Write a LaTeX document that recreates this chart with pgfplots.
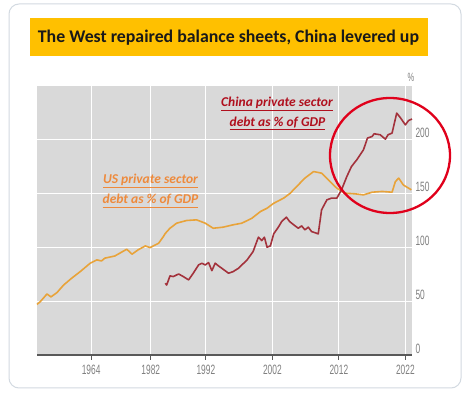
\documentclass[border=0pt]{standalone}
\usepackage{pgfplots}
\pgfplotsset{compat=1.18}
\usepackage{fontspec}
\setmainfont{Carlito}
\newfontfamily\tickfont[FakeStretch=0.62]{Liberation Sans}
\definecolor{bggray}{HTML}{D9D9D9}
\definecolor{usorange}{HTML}{E8A33A}
\definecolor{chinared}{HTML}{A3323C}
\definecolor{usann}{HTML}{EE8A3C}
\definecolor{chinaann}{HTML}{B0101E}
\definecolor{circred}{HTML}{E0001B}
\definecolor{axisgray}{HTML}{595959}
\definecolor{tickgray}{HTML}{808080}
\definecolor{titlebg}{HTML}{FFC000}
\definecolor{framecol}{HTML}{D3DAE1}
\begin{document}
\begin{tikzpicture}[x=1pt,y=1pt]
\useasboundingbox (0,0) rectangle (466,393);
\fill[white] (0,0) rectangle (466,393);
\draw[framecol, line width=1pt, rounded corners=10pt] (9,5) rectangle (461,389);
\fill[titlebg] (30,337) rectangle (427.7,374.7);
\node[anchor=base, inner sep=0pt, text=black!90] at (228.5,350.3) {\fontsize{17.8}{20}\selectfont\bfseries The West repaired balance sheets, China levered up};
\begin{axis}[
  at={(37pt,38pt)}, anchor=south west,
  scale only axis, width=375pt, height=269pt,
  xmin=1966.6, xmax=2023.0, ymin=0, ymax=250,
  axis background/.style={fill=bggray},
  axis x line*=bottom, axis y line*=right,
  y axis line style={draw=none},
  x axis line style={draw=axisgray, line width=1.5pt, -},
  xtick={1974.74,1983.71,1992,2002,2012,2022},
  xticklabels={1964,1982,1992,2002,2012,2022},
  ytick={0,50,100,150,200},
  yticklabels={0,50,100,150,200},
  grid=major,
  major grid style={white, line width=1pt},
  tick align=outside,
  major tick length=5pt,
  xtick style={draw=axisgray, line width=1pt},
  ytick style={draw=none},
  ticklabel style={font=\tickfont\fontsize{13.5}{14}\selectfont, text=tickgray},
  yticklabel style={anchor=west, yshift=6.5pt, xshift=-5pt},
  xticklabel style={yshift=-2pt},
  clip=false,
]
\addplot[usorange, line width=1.6pt, line join=round] table {
1966.6 47
1967.1 49.6
1968.1 56.7
1968.7 54
1969.6 58
1970.6 65
1971.8 71.3
1973.1 77.5
1974.6 85.3
1975.6 88.4
1976.3 87.4
1976.8 90
1978.3 92
1980.1 98.3
1980.9 93.7
1981.8 97.7
1982.9 101.4
1983.6 99.8
1984.9 103.9
1985.6 110
1985.9 113
1986.6 117.8
1987.6 122.5
1989.1 125
1990.6 125.6
1991.9 122.5
1993.1 117.8
1994.6 118.8
1996.1 121
1997.4 122.5
1998.9 127
2000.2 133.3
2001.2 136.4
2002.2 141
2003.7 145.8
2004.7 150.4
2005.4 155
2006.9 164.4
2008.2 170.5
2009.4 169
2010.4 162.8
2011.7 155
2012.9 150.4
2014.4 149.8
2015.7 148.8
2017.0 151.3
2018.5 152
2020.0 151.3
2020.5 161.2
2021.0 164.4
2021.7 158
2022.9 153.5
};
\addplot[chinared, line width=1.6pt, line join=round] table {
1985.9 66.7
1986.1 65
1986.6 73.5
1987.1 72.9
1987.9 75.3
1988.6 72.9
1989.4 69.8
1990.1 76
1990.9 83.7
1991.4 85.3
1991.9 83.7
1992.4 85.9
1992.9 78.4
1993.4 85.3
1993.9 82.8
1994.4 80.6
1995.4 76
1996.1 77.5
1996.9 80.6
1998.2 88.4
1999.1 96.1
1999.9 109.5
2000.4 106.3
2000.8 109.5
2001.2 100.2
2001.7 101.4
2002.2 112.6
2002.9 118.8
2003.4 124
2004.1 128.1
2004.6 124
2005.2 121
2005.9 117.8
2006.4 120
2006.9 116.3
2007.4 118.8
2007.9 114.7
2008.9 112.6
2009.4 134.9
2010.2 144.2
2010.9 145.8
2011.7 145.8
2012.4 153.5
2013.2 165.9
2013.9 175.2
2014.7 181.4
2015.7 190.7
2016.3 201.6
2017.0 203.1
2017.3 205.6
2018.2 204.7
2019.0 200.6
2019.4 204.7
2020.0 206.2
2020.7 224.8
2021.2 221
2022.0 213.9
2022.5 218
2023.0 219.3
};
\end{axis}
\node[anchor=base, inner sep=0pt, text=tickgray] at (411,311) {\tickfont\fontsize{12}{13}\selectfont\%};
\node[anchor=base, inner sep=0pt, text=chinaann] at (277,286.3) {\fontsize{13.5}{15}\selectfont\bfseries\itshape\underline{China private sector}};
\node[anchor=base, inner sep=0pt, text=chinaann] at (277.5,266.3) {\fontsize{13.5}{15}\selectfont\bfseries\itshape\underline{debt as \% of GDP}};
\node[anchor=base, inner sep=0pt, text=usann] at (150.5,209) {\fontsize{13.5}{15}\selectfont\bfseries\itshape\underline{US private sector}};
\node[anchor=base, inner sep=0pt, text=usann] at (150.5,189) {\fontsize{13.5}{15}\selectfont\bfseries\itshape\underline{debt as \% of GDP}};
\draw[circred, line width=2.3pt] (390,237.5) ellipse [x radius=60, y radius=57.5];
\end{tikzpicture}
\end{document}
